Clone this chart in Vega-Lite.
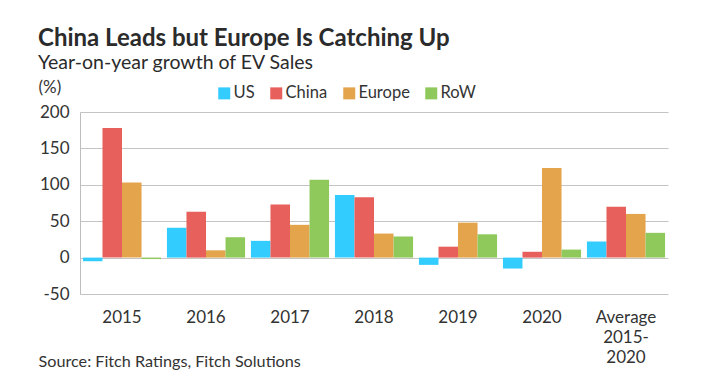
{
  "$schema": "https://vega.github.io/schema/vega-lite/v6.json",
  "width": 588,
  "height": 182,
  "autosize": {"type": "none"},
  "padding": {"left": 80, "top": 112, "right": 36, "bottom": 94},
  "background": "white",
  "config": {
    "font": "Lato",
    "view": {"stroke": null},
    "axis": {"labelColor": "#333333", "titleColor": "#333333", "labelFont": "Lato", "titleFont": "Lato"}
  },
  "title": {
    "text": "China Leads but Europe Is Catching Up",
    "subtitle": "Year-on-year growth of EV Sales",
    "anchor": "start",
    "frame": "group",
    "dx": -42,
    "offset": 6,
    "fontSize": 24,
    "fontWeight": "bold",
    "color": "#2b2b2b",
    "subtitleFontSize": 19.5,
    "subtitleColor": "#2b2b2b",
    "subtitlePadding": 3
  },
  "data": {
    "values": [
      {"period": "2015", "region": "US", "growth": -5},
      {"period": "2015", "region": "China", "growth": 178},
      {"period": "2015", "region": "Europe", "growth": 103},
      {"period": "2015", "region": "RoW", "growth": -2},
      {"period": "2016", "region": "US", "growth": 41},
      {"period": "2016", "region": "China", "growth": 63},
      {"period": "2016", "region": "Europe", "growth": 10},
      {"period": "2016", "region": "RoW", "growth": 28},
      {"period": "2017", "region": "US", "growth": 23},
      {"period": "2017", "region": "China", "growth": 73},
      {"period": "2017", "region": "Europe", "growth": 45},
      {"period": "2017", "region": "RoW", "growth": 107},
      {"period": "2018", "region": "US", "growth": 86},
      {"period": "2018", "region": "China", "growth": 83},
      {"period": "2018", "region": "Europe", "growth": 33},
      {"period": "2018", "region": "RoW", "growth": 29},
      {"period": "2019", "region": "US", "growth": -10},
      {"period": "2019", "region": "China", "growth": 15},
      {"period": "2019", "region": "Europe", "growth": 48},
      {"period": "2019", "region": "RoW", "growth": 32},
      {"period": "2020", "region": "US", "growth": -15},
      {"period": "2020", "region": "China", "growth": 8},
      {"period": "2020", "region": "Europe", "growth": 123},
      {"period": "2020", "region": "RoW", "growth": 11},
      {"period": "Average 2015-2020", "region": "US", "growth": 22},
      {"period": "Average 2015-2020", "region": "China", "growth": 70},
      {"period": "Average 2015-2020", "region": "Europe", "growth": 60},
      {"period": "Average 2015-2020", "region": "RoW", "growth": 34}
    ]
  },
  "mark": {"type": "bar"},
  "encoding": {
    "x": {
      "field": "period",
      "type": "nominal",
      "sort": null,
      "scale": {"paddingInner": 0.07, "paddingOuter": 0.035},
      "axis": {
        "labelAngle": 0,
        "labelFontSize": 17,
        "labelPadding": 15,
        "labelLineHeight": 20,
        "labelExpr": "datum.value == 'Average 2015-2020' ? ['Average', '2015-', '2020'] : datum.value",
        "ticks": false,
        "domain": false,
        "title": "Source: Fitch Ratings, Fitch Solutions",
        "titleFontSize": 16.2,
        "titleFontWeight": "normal",
        "titleAlign": "left",
        "titleAnchor": "start",
        "titleBaseline": "alphabetic",
        "titleX": -42,
        "titleY": 72
      }
    },
    "xOffset": {
      "field": "region",
      "type": "nominal",
      "sort": ["US", "China", "Europe", "RoW"],
      "scale": {"paddingInner": 0, "paddingOuter": 0}
    },
    "y": {
      "field": "growth",
      "type": "quantitative",
      "scale": {"domain": [-50, 200], "nice": false},
      "axis": {
        "values": [-50, 0, 50, 100, 150, 200],
        "labelExpr": "'' + datum.value",
        "labelFontSize": 17,
        "labelPadding": 11,
        "ticks": false,
        "domain": true,
        "domainColor": "#bdbdbd",
        "gridColor": "#c4c4c4",
        "gridWidth": 1,
        "title": "(%)",
        "titleAngle": 0,
        "titleFontSize": 17,
        "titleFontWeight": "normal",
        "titleAlign": "left",
        "titleBaseline": "alphabetic",
        "titleX": -42,
        "titleY": -20
      }
    },
    "color": {
      "field": "region",
      "type": "nominal",
      "sort": ["US", "China", "Europe", "RoW"],
      "scale": {"domain": ["US", "China", "Europe", "RoW"], "range": ["#33CCFF", "#E8605B", "#E3A44C", "#8FC85B"]},
      "legend": {
        "title": null,
        "orient": "none",
        "direction": "horizontal",
        "legendX": 136,
        "legendY": -27,
        "symbolType": "square",
        "symbolSize": 144,
        "symbolStrokeWidth": 0,
        "symbolOpacity": 1,
        "labelFontSize": 16.5,
        "labelColor": "#333333",
        "labelOffset": 1,
        "columnPadding": 13
      }
    }
  }
}
